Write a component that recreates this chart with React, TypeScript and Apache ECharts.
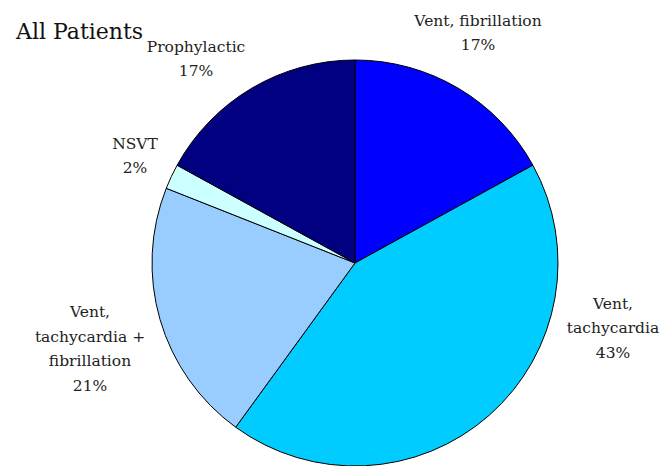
import React, { useEffect, useRef } from "react";
import * as echarts from "echarts";

const categories = [
  "Vent, fibrillation",
  "Vent,\ntachycardia",
  "Vent,\ntachycardia +\nfibrillation",
  "NSVT",
  "Prophylactic",
];
const values = [17, 43, 21, 2, 17];
const colors = ["#0000FF", "#00CCFF", "#99CCFF", "#CCFFFF", "#000080"];
const labelCenters = [
  [478, 33],
  [613, 328],
  [90, 349],
  [135, 156],
  [196, 59],
];
const FONT = "DejaVu Serif";

export default function App() {
  const ref = useRef<HTMLDivElement>(null);
  useEffect(() => {
    if (!ref.current) return;
    const chart = echarts.init(ref.current, null, { renderer: "svg" });
    chart.setOption({
      animation: false,
      backgroundColor: "#ffffff",
      textStyle: { fontFamily: FONT },
      title: {
        text: "All Patients",
        left: 11,
        top: 15,
        textStyle: {
          fontFamily: FONT,
          fontSize: 22,
          fontWeight: "normal",
          color: "#111111",
        },
      },
      series: [
        {
          type: "pie",
          center: [355, 263],
          radius: 203,
          startAngle: 90,
          clockwise: true,
          avoidLabelOverlap: false,
          data: categories.map((c, i) => ({
            name: c,
            value: values[i],
            itemStyle: { color: colors[i] },
          })),
          itemStyle: { borderColor: "#000000", borderWidth: 1 },
          label: {
            show: true,
            position: "outside",
            formatter: "{b}\n{d}%",
            fontFamily: FONT,
            fontSize: 15.5,
            lineHeight: 24.5,
            color: "#222222",
            align: "center",
          },
          labelLine: { show: false },
          labelLayout: (params: any) => {
            const p = labelCenters[params.dataIndex];
            return {
              x: p[0],
              y: p[1],
              align: "center",
              verticalAlign: "middle",
            };
          },
          emphasis: { disabled: true },
        },
      ],
    });
    return () => chart.dispose();
  }, []);
  return (
    <div
      ref={ref}
      style={{ position: "fixed", left: 0, top: 0, width: 661, height: 466 }}
    />
  );
}
